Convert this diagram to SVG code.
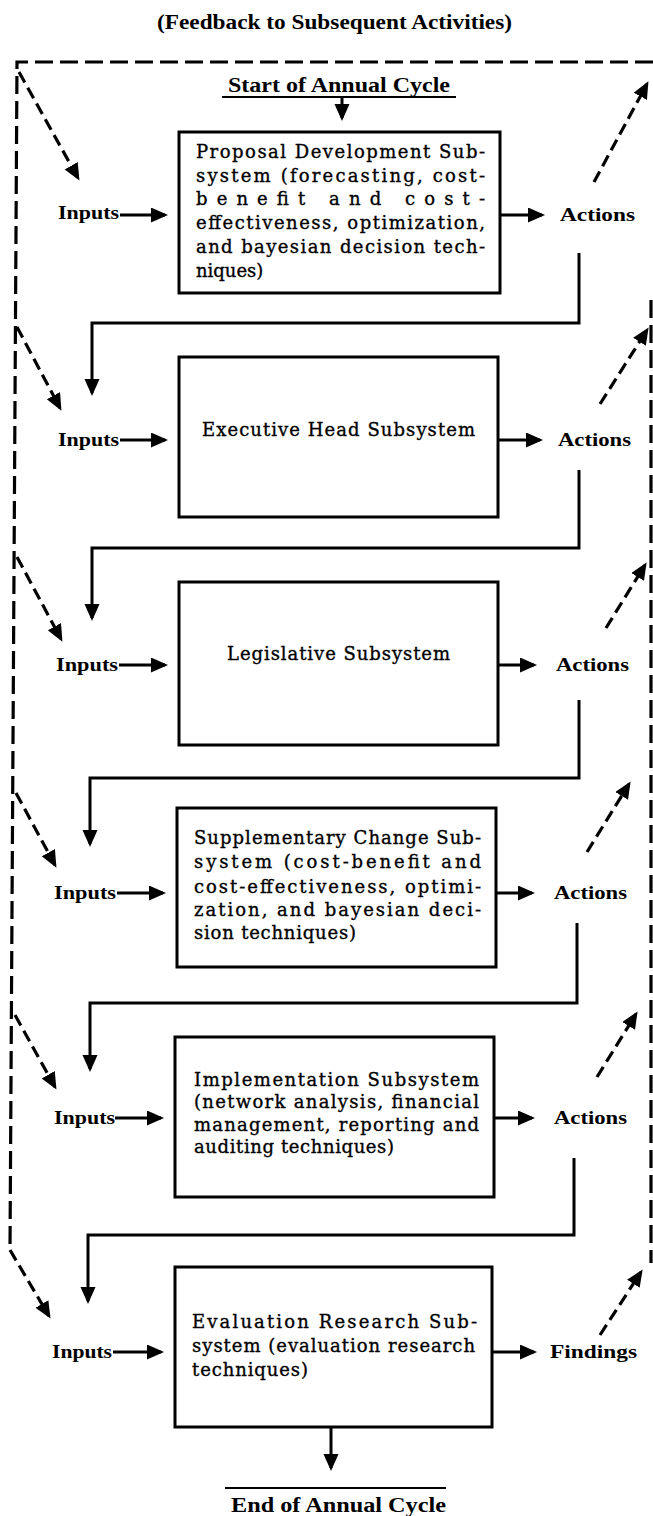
<svg xmlns="http://www.w3.org/2000/svg" width="653" height="1516" viewBox="0 0 653 1516">
<defs>
<style>
.box{fill:#fff;stroke:#000;stroke-width:3}
.ln{fill:none;stroke:#000;stroke-width:3}
.ul{fill:none;stroke:#000;stroke-width:2}
.dash{fill:none;stroke:#000;stroke-width:3.2;stroke-dasharray:12 6}
.dtop{fill:none;stroke:#000;stroke-width:3.2;stroke-dasharray:18 7}
.t{font-family:"DejaVu Serif","Liberation Serif",serif;font-size:18px;fill:#000;stroke:#000;stroke-width:0.35}
.lb{font-family:"Liberation Serif",serif;font-weight:bold;font-size:19px;fill:#000}
.hd{font-family:"Liberation Serif",serif;font-weight:bold;font-size:20px;fill:#000}
</style>
<marker id="ah" markerUnits="userSpaceOnUse" markerWidth="18" markerHeight="16" refX="14" refY="7.5" orient="auto">
<path d="M0,0 L17,7.5 L0,15 z" fill="#000"/>
</marker>
</defs>
<rect width="653" height="1516" fill="#fff"/>

<g id="title">
<text class="hd" x="157" y="29" textLength="355" lengthAdjust="spacingAndGlyphs">(Feedback to Subsequent Activities)</text>
</g>

<g id="start">
<text class="hd" x="228" y="92" textLength="222" lengthAdjust="spacingAndGlyphs">Start of Annual Cycle</text>
<line class="ul" x1="222" y1="97" x2="456" y2="97"/>
</g>

<g id="end">
<line class="ul" x1="225" y1="1488" x2="446" y2="1488"/>
<text class="hd" x="231" y="1512" textLength="215" lengthAdjust="spacingAndGlyphs">End of Annual Cycle</text>
</g>

<g id="proposal">
<rect class="box" x="179" y="132" width="321" height="161"/>
<text class="t" x="196" y="158" textLength="289" lengthAdjust="spacing">Proposal Development Sub-</text>
<text class="t" x="196" y="182" textLength="289" lengthAdjust="spacing">system (forecasting, cost-</text>
<text class="t" x="196" y="205" textLength="289" lengthAdjust="spacing">benefit and cost-</text>
<text class="t" x="196" y="229" textLength="289" lengthAdjust="spacing">effectiveness, optimization,</text>
<text class="t" x="196" y="253" textLength="289" lengthAdjust="spacing">and bayesian decision tech-</text>
<text class="t" x="196" y="277">niques)</text>
</g>

<g id="executive">
<rect class="box" x="179" y="357" width="319" height="160"/>
<text class="t" x="202" y="436" textLength="273" lengthAdjust="spacing">Executive Head Subsystem</text>
</g>

<g id="legislative">
<rect class="box" x="179" y="582" width="319" height="163"/>
<text class="t" x="227" y="660" textLength="223" lengthAdjust="spacing">Legislative Subsystem</text>
</g>

<g id="supplementary">
<rect class="box" x="177" y="808" width="319" height="159"/>
<text class="t" x="194" y="844" textLength="287" lengthAdjust="spacing">Supplementary Change Sub-</text>
<text class="t" x="194" y="868" textLength="287" lengthAdjust="spacing">system (cost-benefit and</text>
<text class="t" x="194" y="893" textLength="287" lengthAdjust="spacing">cost-effectiveness, optimi-</text>
<text class="t" x="194" y="916" textLength="287" lengthAdjust="spacing">zation, and bayesian deci-</text>
<text class="t" x="194" y="939" textLength="162" lengthAdjust="spacing">sion techniques)</text>
</g>

<g id="implementation">
<rect class="box" x="175" y="1037" width="319" height="160"/>
<text class="t" x="194" y="1086" textLength="285" lengthAdjust="spacing">Implementation Subsystem</text>
<text class="t" x="194" y="1108" textLength="285" lengthAdjust="spacing">(network analysis, financial</text>
<text class="t" x="194" y="1131" textLength="285" lengthAdjust="spacing">management, reporting and</text>
<text class="t" x="194" y="1153" textLength="200" lengthAdjust="spacing">auditing techniques)</text>
</g>

<g id="evaluation">
<rect class="box" x="175" y="1267" width="317" height="160"/>
<text class="t" x="192" y="1328" textLength="285" lengthAdjust="spacing">Evaluation Research Sub-</text>
<text class="t" x="192" y="1352" textLength="283" lengthAdjust="spacing">system (evaluation research</text>
<text class="t" x="192" y="1376" textLength="116" lengthAdjust="spacing">techniques)</text>
</g>

<g id="labels">
<text class="lb" x="58" y="219" textLength="61" lengthAdjust="spacingAndGlyphs">Inputs</text>
<text class="lb" x="58" y="446" textLength="61" lengthAdjust="spacingAndGlyphs">Inputs</text>
<text class="lb" x="56" y="671" textLength="62" lengthAdjust="spacingAndGlyphs">Inputs</text>
<text class="lb" x="54" y="899" textLength="62" lengthAdjust="spacingAndGlyphs">Inputs</text>
<text class="lb" x="54" y="1124" textLength="61" lengthAdjust="spacingAndGlyphs">Inputs</text>
<text class="lb" x="52" y="1358" textLength="60" lengthAdjust="spacingAndGlyphs">Inputs</text>
<text class="lb" x="560" y="221" textLength="75" lengthAdjust="spacingAndGlyphs">Actions</text>
<text class="lb" x="558" y="446" textLength="73" lengthAdjust="spacingAndGlyphs">Actions</text>
<text class="lb" x="556" y="671" textLength="73" lengthAdjust="spacingAndGlyphs">Actions</text>
<text class="lb" x="554" y="899" textLength="73" lengthAdjust="spacingAndGlyphs">Actions</text>
<text class="lb" x="554" y="1124" textLength="73" lengthAdjust="spacingAndGlyphs">Actions</text>
<text class="lb" x="550" y="1358" textLength="87" lengthAdjust="spacingAndGlyphs">Findings</text>
</g>

<g id="connectors">
<line class="ln" x1="342" y1="97" x2="342" y2="118" marker-end="url(#ah)"/>
<line class="ln" x1="120" y1="215" x2="165" y2="215" marker-end="url(#ah)"/>
<line class="ln" x1="120" y1="440" x2="165" y2="440" marker-end="url(#ah)"/>
<line class="ln" x1="119" y1="665" x2="165" y2="665" marker-end="url(#ah)"/>
<line class="ln" x1="117" y1="893" x2="163" y2="893" marker-end="url(#ah)"/>
<line class="ln" x1="115" y1="1118" x2="161" y2="1118" marker-end="url(#ah)"/>
<line class="ln" x1="113" y1="1352" x2="161" y2="1352" marker-end="url(#ah)"/>
<line class="ln" x1="500" y1="215" x2="542" y2="215" marker-end="url(#ah)"/>
<line class="ln" x1="498" y1="440" x2="540" y2="440" marker-end="url(#ah)"/>
<line class="ln" x1="498" y1="665" x2="534" y2="665" marker-end="url(#ah)"/>
<line class="ln" x1="496" y1="893" x2="532" y2="893" marker-end="url(#ah)"/>
<line class="ln" x1="494" y1="1118" x2="532" y2="1118" marker-end="url(#ah)"/>
<line class="ln" x1="492" y1="1352" x2="534" y2="1352" marker-end="url(#ah)"/>
<polyline class="ln" points="579,253 579,323 92,323 92,393" marker-end="url(#ah)"/>
<polyline class="ln" points="579,470 579,548 92,548 92,618" marker-end="url(#ah)"/>
<polyline class="ln" points="579,700 579,778 90,778 90,844" marker-end="url(#ah)"/>
<polyline class="ln" points="577,923 577,1003 90,1003 90,1069" marker-end="url(#ah)"/>
<polyline class="ln" points="574,1158 574,1235 88,1235 88,1301" marker-end="url(#ah)"/>
<line class="ln" x1="331" y1="1427" x2="331" y2="1468" marker-end="url(#ah)"/>
<path class="dtop" d="M653,62 H17 L10,1250"/>
<path class="dash" d="M10,1250 L49,1316" marker-end="url(#ah)"/>
<path class="dash" d="M19,72 L78,178" marker-end="url(#ah)"/>
<path class="dash" d="M17,327 L60,408" marker-end="url(#ah)"/>
<path class="dash" d="M17,557 L61,639" marker-end="url(#ah)"/>
<path class="dash" d="M16,793 L55,865" marker-end="url(#ah)"/>
<path class="dash" d="M15,1015 L55,1087" marker-end="url(#ah)"/>
<path class="dash" d="M594,182 L647,84" marker-end="url(#ah)"/>
<path class="dash" d="M600,404 L647,330" marker-end="url(#ah)"/>
<path class="dash" d="M606,628 L645,565" marker-end="url(#ah)"/>
<path class="dash" d="M587,852 L629,784" marker-end="url(#ah)"/>
<path class="dash" d="M597,1077 L636,1014" marker-end="url(#ah)"/>
<path class="dash" d="M600,1335 L641,1272" marker-end="url(#ah)"/>
<line class="dtop" x1="651" y1="300" x2="651" y2="1263"/>
</g>
</svg>
